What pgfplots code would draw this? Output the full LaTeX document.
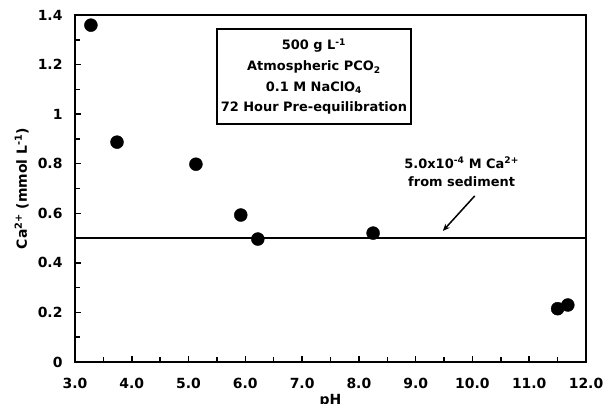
\documentclass[border=0pt]{standalone}
\usepackage{fontspec}
\setmainfont{DejaVu Sans}
\usepackage{pgfplots}
\pgfplotsset{compat=1.18}
\usetikzlibrary{arrows.meta}
\newcommand{\ff}{\bfseries\fontsize{14}{16.8}\selectfont}
\newcommand{\fb}{\bfseries\fontsize{13}{20.7}\selectfont}
\begin{document}
\begin{tikzpicture}
\path[use as bounding box] (-75bp,-42bp) rectangle (530bp,362bp);
\begin{axis}[
  scale only axis, width=511bp, height=347bp,
  xmin=3, xmax=12, ymin=0, ymax=1.4,
  clip=false,
  xtick={3,4,5,6,7,8,9,10,11,12},
  minor xtick={3.5,4.5,5.5,6.5,7.5,8.5,9.5,10.5,11.5},
  ytick={0,0.2,0.4,0.6,0.8,1,1.2,1.4},
  minor ytick={0.1,0.3,0.5,0.7,0.9,1.1,1.3},
  tick align=inside, tick pos=left,
  major tick length=6bp, minor tick length=5bp,
  axis line style={line width=2.2bp},
  every tick/.style={black, line width=1.5bp},
  /pgf/number format/assume math mode=true,
  every tick label/.append style={font=\ff},
  xticklabel style={/pgf/number format/.cd, fixed, fixed zerofill, precision=1, /tikz/.cd, yshift=-13bp},
  yticklabel style={xshift=-9bp},
  xlabel={pH},
  xlabel style={at={(axis description cs:0.5,0)}, anchor=north, inner sep=0pt, yshift=-32bp, font=\ff},
  ylabel={Ca\textsuperscript{2+} (mmol L\textsuperscript{-1})},
  ylabel style={at={(axis description cs:0,0.5)}, anchor=south, inner sep=0pt, yshift=46bp, font=\ff},
]
\addplot[black, line width=2.2bp] coordinates {(3,0.5) (12,0.5)};
\addplot[only marks, mark=*, mark size=6.5bp, black] coordinates {
  (3.28,1.359) (3.74,0.887) (5.13,0.798) (5.92,0.593) (6.22,0.496)
  (8.25,0.520) (11.50,0.215) (11.68,0.230)
};
\node[draw, line width=1.5bp, minimum width=194bp, minimum height=95bp, align=center, font=\fb, inner sep=0pt]
  at (axis cs:7.208,1.151) {500 g L\textsuperscript{-1}\\Atmospheric PCO\textsubscript{2}\\0.1 M NaClO\textsubscript{4}\\72 Hour Pre-equilibration};
\node[align=center, font=\fb, inner sep=0pt] at (axis cs:9.81,0.767)
  {5.0x10\textsuperscript{-4} M Ca\textsuperscript{2+}\\[-2bp]from sediment};
\draw[line width=1.5bp, -{Stealth[length=7bp,width=6bp]}] (axis cs:10.04,0.670) -- (axis cs:9.48,0.529);
\end{axis}
\end{tikzpicture}
\end{document}
